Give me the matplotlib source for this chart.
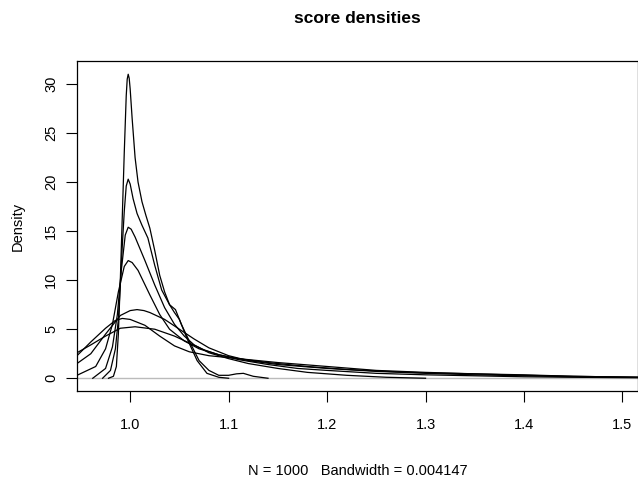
import matplotlib
matplotlib.use("Agg")
import matplotlib.pyplot as plt

plt.rcParams["font.family"] = ["Liberation Sans", "DejaVu Sans"]

# density curves (x, density)
c1_x = [0.978, 0.983, 0.986, 0.988, 0.990, 0.992, 0.994, 0.996, 0.997, 0.998, 0.999, 1.000,
        1.002, 1.005, 1.008, 1.012, 1.016, 1.020, 1.025, 1.030, 1.035, 1.040, 1.045, 1.050,
        1.058, 1.068, 1.078, 1.090, 1.100]
c1_y = [0.0, 0.2, 1.2, 4.5, 10.0, 16.5, 23.0, 28.8, 30.5, 31.0, 30.6, 29.5,
        26.5, 22.5, 20.0, 18.0, 16.6, 15.3, 13.0, 10.5, 8.8, 7.5, 6.7, 6.0,
        4.0, 1.8, 0.5, 0.1, 0.0]

c2_x = [0.972, 0.980, 0.985, 0.988, 0.990, 0.992, 0.994, 0.996, 0.998, 1.000, 1.003, 1.007,
        1.012, 1.018, 1.025, 1.032, 1.040, 1.046, 1.052, 1.060, 1.070, 1.080, 1.090, 1.100,
        1.108, 1.115, 1.125, 1.140]
c2_y = [0.0, 0.8, 3.0, 6.0, 9.5, 13.5, 17.0, 19.6, 20.3, 19.8, 18.3, 16.8,
        15.6, 14.3, 11.5, 9.0, 7.5, 7.0, 5.5, 3.8, 1.8, 0.8, 0.3, 0.3,
        0.45, 0.5, 0.2, 0.0]

c3_x = [0.962, 0.975, 0.982, 0.987, 0.991, 0.995, 0.998, 1.001, 1.005, 1.010, 1.015, 1.025,
        1.035, 1.045, 1.055, 1.065, 1.080, 1.100, 1.120, 1.150, 1.180, 1.220, 1.260, 1.300]
c3_y = [0.0, 1.0, 3.2, 6.5, 11.0, 14.6, 15.4, 15.2, 14.4, 13.2, 12.0, 9.5,
        7.2, 5.5, 4.3, 3.4, 2.6, 2.0, 1.5, 1.0, 0.6, 0.3, 0.1, 0.0]

c4_x = [0.946, 0.965, 0.975, 0.982, 0.988, 0.994, 0.998, 1.002, 1.008, 1.020, 1.030, 1.040,
        1.055, 1.070, 1.090, 1.110, 1.140, 1.170, 1.200, 1.250, 1.300, 1.350, 1.400, 1.450,
        1.516]
c4_y = [0.3, 1.2, 3.0, 5.5, 8.8, 11.4, 12.0, 11.8, 11.0, 8.5, 6.5, 5.0,
        3.8, 3.0, 2.4, 1.9, 1.4, 1.0, 0.8, 0.5, 0.35, 0.25, 0.15, 0.1,
        0.05]

c5_x = [0.946, 0.960, 0.975, 0.990, 1.000, 1.007, 1.014, 1.020, 1.035, 1.050, 1.065, 1.080,
        1.100, 1.120, 1.150, 1.200, 1.250, 1.300, 1.350, 1.400, 1.450, 1.516]
c5_y = [1.5, 2.5, 4.5, 6.4, 6.9, 7.0, 6.9, 6.7, 6.0, 5.0, 4.0, 3.1,
        2.3, 1.8, 1.4, 1.0, 0.7, 0.5, 0.35, 0.25, 0.15, 0.1]

c6_x = [0.946, 0.960, 0.975, 0.985, 0.992, 1.000, 1.015, 1.030, 1.045, 1.060, 1.080, 1.100,
        1.120, 1.150, 1.200, 1.250, 1.300, 1.350, 1.400, 1.450, 1.516]
c6_y = [2.3, 3.7, 5.1, 5.9, 6.1, 6.0, 5.4, 4.3, 3.3, 2.7, 2.3, 2.1,
        1.9, 1.6, 1.2, 0.8, 0.6, 0.45, 0.35, 0.2, 0.1]

c7_x = [0.946, 0.960, 0.975, 0.990, 1.005, 1.025, 1.045, 1.060, 1.075, 1.090, 1.110, 1.140,
        1.180, 1.220, 1.260, 1.300, 1.350, 1.400, 1.450, 1.516]
c7_y = [2.6, 3.4, 4.3, 5.1, 5.25, 5.0, 4.3, 3.6, 2.9, 2.4, 2.0, 1.6,
        1.2, 0.9, 0.7, 0.55, 0.45, 0.3, 0.2, 0.1]

curves = [(c1_x, c1_y), (c2_x, c2_y), (c3_x, c3_y), (c4_x, c4_y),
          (c5_x, c5_y), (c6_x, c6_y), (c7_x, c7_y)]

x_ticks = [1.0, 1.1, 1.2, 1.3, 1.4, 1.5]
y_ticks = [0, 5, 10, 15, 20, 25, 30]

fig = plt.figure(figsize=(6.38, 4.8), dpi=100)
ax = fig.add_axes([77 / 638, 1 - 391 / 480, 561 / 638, 330 / 480])

ax.axhline(0, color="#bbbbbb", linewidth=1)
for xs, ys in curves:
    ax.plot(xs, ys, color="black", linewidth=0.9)

ax.set_xlim(0.946, 1.5158)
ax.set_ylim(-1.3, 32.35)
ax.set_xticks(x_ticks)
ax.set_xticklabels([f"{v:.1f}" for v in x_ticks])
ax.set_yticks(y_ticks)
ax.set_yticklabels([str(v) for v in y_ticks], rotation=90, va="center")
ax.tick_params(direction="out", length=7.7, width=0.8, labelsize=10.5)
ax.tick_params(axis="x", pad=12)
ax.tick_params(axis="y", pad=6)
for s in ax.spines.values():
    s.set_linewidth(0.9)

ax.set_title("score densities", fontsize=12.5, fontweight="bold", pad=27.5)
ax.set_ylabel("Density", fontsize=10.5, labelpad=14)
ax.set_xlabel("N = 1000   Bandwidth = 0.004147", fontsize=10.5, labelpad=23)

fig.savefig("out.png", dpi=100, facecolor="white")
